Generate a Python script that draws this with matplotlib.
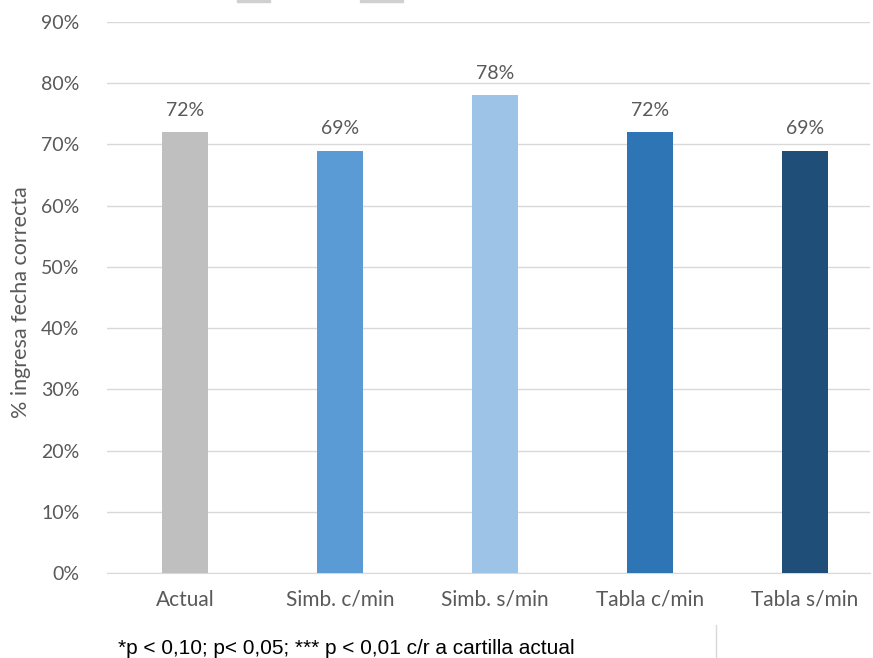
import matplotlib
matplotlib.use('Agg')
import matplotlib.pyplot as plt
from matplotlib.lines import Line2D
from matplotlib.patches import Rectangle

categories = ['Actual', 'Simb. c/min', 'Simb. s/min', 'Tabla c/min', 'Tabla s/min']
values = [0.72, 0.69, 0.78, 0.72, 0.69]
labels = ['72%', '69%', '78%', '72%', '69%']
colors = ['#BFBFBF', '#5B9BD5', '#9DC3E6', '#2E75B6', '#1F4E79']

text_color = '#595959'
plt.rcParams['font.family'] = ['Lato', 'DejaVu Sans']

W, H = 873, 658
fig = plt.figure(figsize=(W / 100, H / 100), dpi=100)
ax = fig.add_axes([107 / W, 1 - 573 / H, 1 - 110 / W, (573 - 22) / H])

x = list(range(len(categories)))
ax.bar(x, values, width=0.30, color=colors, zorder=3)
for xi, v, lab in zip(x, values, labels):
    ax.text(xi, v + 0.022, lab, ha='center', va='bottom', fontsize=14, color=text_color)

ax.set_ylim(0, 0.9)
ax.set_xlim(-0.503, 4.42)
ticks = [i / 10 for i in range(10)]
ax.set_yticks(ticks)
ax.set_yticklabels([f'{int(round(t * 100))}%' for t in ticks], fontsize=14, color=text_color)
ax.set_xticks(x)
ax.set_xticklabels(categories, fontsize=15, color=text_color)
ax.tick_params(axis='y', length=0, pad=20)
ax.tick_params(axis='x', length=0, pad=12)
ax.yaxis.grid(True, color='#D9D9D9', linewidth=1, zorder=0)
for s in ['top', 'right', 'left']:
    ax.spines[s].set_visible(False)
ax.spines['bottom'].set_color('#D9D9D9')
ax.set_ylabel('% ingresa fecha correcta', fontsize=15.5, color=text_color)
ax.yaxis.set_label_coords((31 - 107) / (W - 110), (573 - 302) / (573 - 22))

# cropped legend swatches at the very top
fig.patches.append(Rectangle((237 / W, 1 - 2 / H), 33 / W, 2 / H, transform=fig.transFigure,
                             color='#D0D0D0'))
fig.patches.append(Rectangle((360 / W, 1 - 2 / H), 43 / W, 2 / H, transform=fig.transFigure,
                             color='#D0D0D0'))
fig.lines.append(Line2D([716 / W, 716 / W], [0, 1 - 625 / H], transform=fig.transFigure,
                        color='#D9D9D9', linewidth=1))

fig.text(118 / W, 1 - 648 / H, '*p < 0,10; p< 0,05; *** p < 0,01 c/r a cartilla actual',
         fontsize=15, family='Liberation Sans', color='black', va='center')

fig.savefig('out.png', dpi=100)
